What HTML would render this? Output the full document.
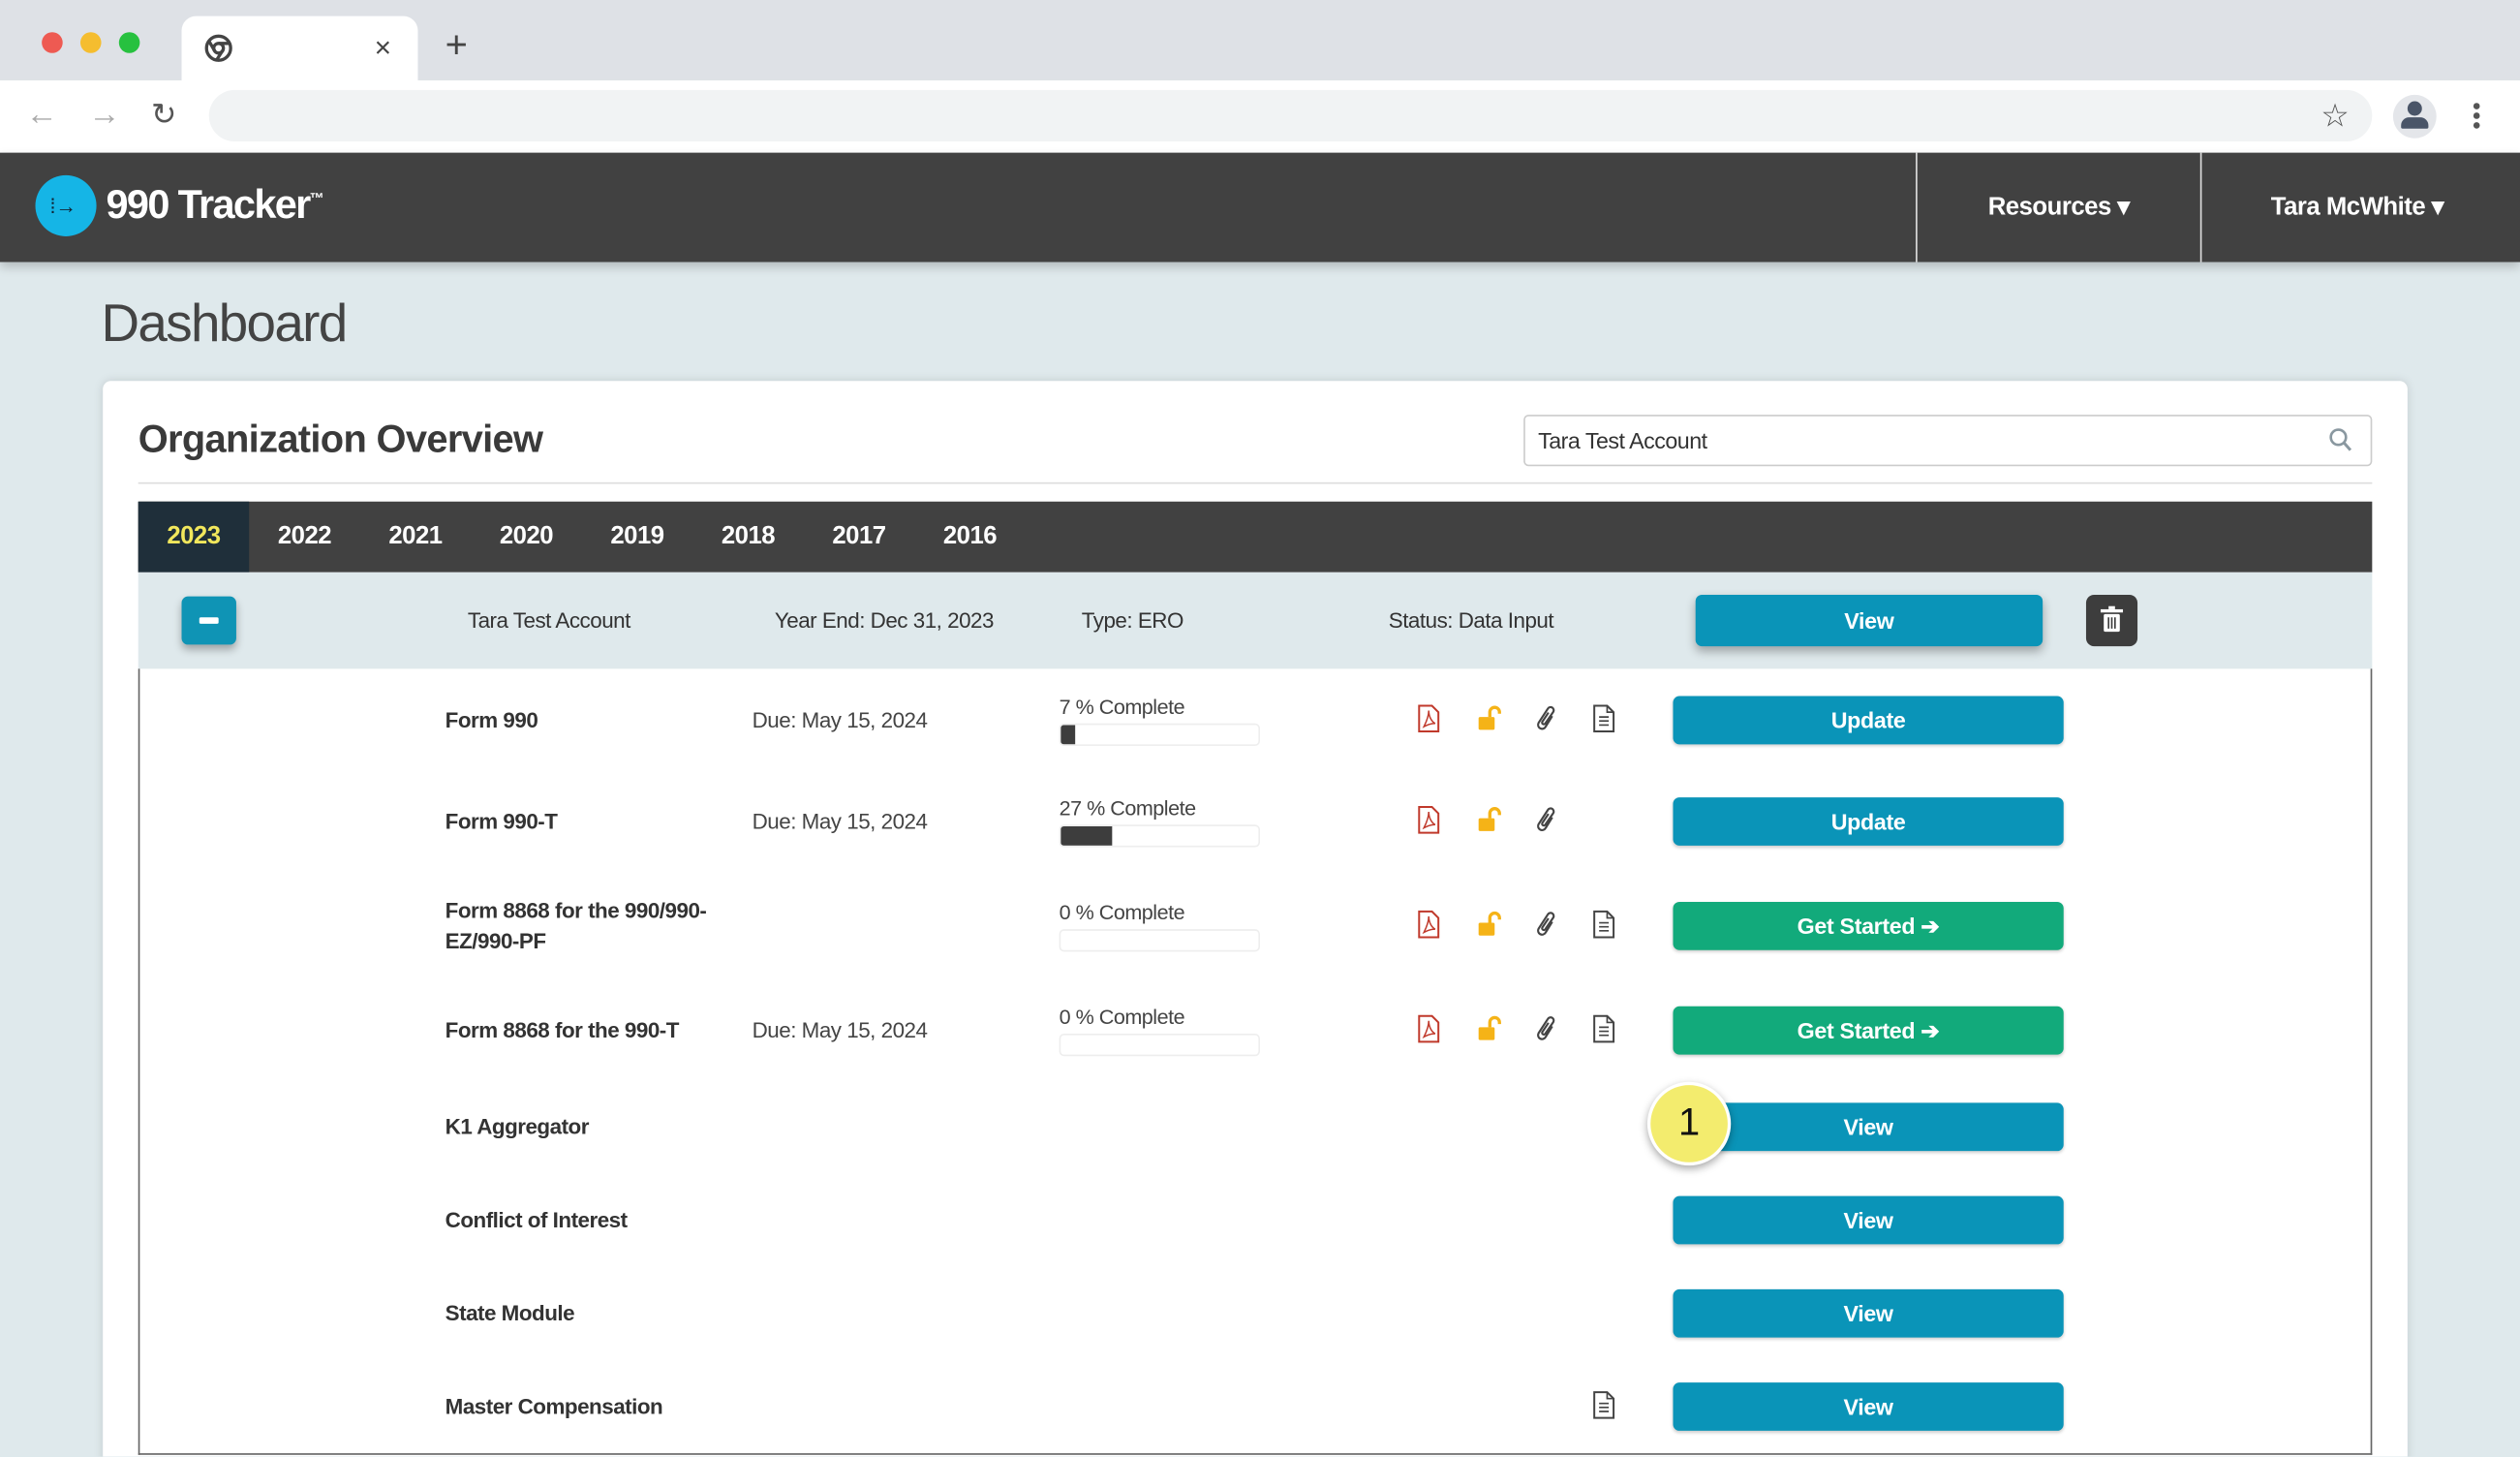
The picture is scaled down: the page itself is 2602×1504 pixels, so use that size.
<!DOCTYPE html>
<html><head><meta charset="utf-8">
<style>
*{margin:0;padding:0;box-sizing:border-box}
html,body{width:2602px;height:1504px;overflow:hidden;background:#dfe9ec}
#w{position:absolute;left:0;top:0;width:1568px;height:906px;transform:scale(1.65944);transform-origin:0 0;font-family:"Liberation Sans",sans-serif;color:#333;background:#dfe9ec;overflow:hidden}
.a{position:absolute}
.t{position:absolute;white-space:nowrap;transform:translateY(-50%)}
.btn{position:absolute;left:1041px;width:243px;height:30px;border-radius:4px;background:#0a94b8;color:#fff;font-weight:bold;font-size:14px;letter-spacing:-.2px;text-align:center;line-height:30px;box-shadow:0 1px 2px rgba(0,0,0,.2)}
.g{background:#12aa7b}
.nm{position:absolute;left:277px;font-weight:bold;font-size:13.5px;letter-spacing:-.3px;color:#333;transform:translateY(-50%);line-height:19px}
.due{position:absolute;left:468px;font-size:13.5px;letter-spacing:-.3px;color:#444;transform:translateY(-50%)}
.pl{position:absolute;left:659px;font-size:13px;letter-spacing:-.3px;color:#444}
.pb{position:absolute;left:659px;width:125px;height:14px;border:1px solid #eee;border-radius:3px;background:#fff;overflow:hidden}
.pb i{display:block;height:100%;background:#3d3d3d}
.yr{position:absolute;top:312px;height:44px;line-height:44px;color:#fff;font-weight:bold;font-size:15.5px;letter-spacing:-.3px;text-align:center;width:69px}
</style></head><body><div id="w">
<div class="a" style="left:0;top:0;width:1568px;height:50px;background:#dee1e6"></div>
<div class="a" style="left:26px;top:20px;width:13px;height:13px;border-radius:50%;background:#ee5a52"></div>
<div class="a" style="left:50px;top:20px;width:13px;height:13px;border-radius:50%;background:#f5bd2f"></div>
<div class="a" style="left:74px;top:20px;width:13px;height:13px;border-radius:50%;background:#27c13f"></div>
<div class="a" style="left:113px;top:10px;width:147px;height:41px;background:#fff;border-radius:9px 9px 0 0"></div>
<svg class="a" style="left:127px;top:21px" width="18" height="18" viewBox="0 0 18 18"><circle cx="9" cy="9" r="7.5" fill="none" stroke="#444" stroke-width="2"/><circle cx="9" cy="9" r="3" fill="none" stroke="#444" stroke-width="2"/><path d="M9 6H16M6.5 10.5L3 4.5M11.5 10.5L8 16" stroke="#444" stroke-width="2"/></svg>
<div class="t" style="left:233px;top:30px;font-size:18px;color:#444">×</div>
<div class="t" style="left:277px;top:29px;font-size:24px;color:#444">+</div>
<div class="a" style="left:0;top:50px;width:1568px;height:45px;background:#fff"></div>
<div class="t" style="left:16px;top:72px;font-size:20px;color:#aaa">←</div>
<div class="t" style="left:55px;top:72px;font-size:20px;color:#aaa">→</div>
<div class="t" style="left:94px;top:72px;font-size:19px;color:#555">↻</div>
<div class="a" style="left:130px;top:56px;width:1346px;height:32px;border-radius:16px;background:#f1f3f4"></div>
<div class="t" style="left:1444px;top:72px;font-size:20px;color:#555">☆</div>
<div class="a" style="left:1489px;top:59px;width:27px;height:27px;border-radius:50%;background:#e4e6ea"></div>
<div class="a" style="left:1498px;top:63px;width:9px;height:9px;border-radius:50%;background:#4a5568"></div>
<div class="a" style="left:1494px;top:73px;width:17px;height:7px;border-radius:5px 5px 1px 1px;background:#4a5568"></div>
<div class="a" style="left:1539px;top:64px;width:4px;height:4px;border-radius:50%;background:#555;box-shadow:0 6px 0 #555,0 12px 0 #555"></div>
<div class="a" style="left:0;top:95px;width:1568px;height:68px;background:#414141;box-shadow:0 3px 6px rgba(0,0,0,.2)"></div>
<div class="a" style="left:22px;top:109px;width:38px;height:38px;border-radius:50%;background:#15b5e6"></div>
<div class="t" style="left:31px;top:128px;font-size:13px;color:#123">⁞→</div>
<div class="t" style="left:66px;top:128px;font-size:25px;font-weight:bold;color:#fff;letter-spacing:-1px">990 Tracker<sup style="font-size:9px">™</sup></div>
<div class="a" style="left:1192px;top:95px;width:1px;height:68px;background:#ddd"></div>
<div class="a" style="left:1369px;top:95px;width:1px;height:68px;background:#ddd"></div>
<div class="t" style="left:1237px;top:129px;font-size:15.5px;letter-spacing:-.3px;font-weight:bold;color:#fff">Resources ▾</div>
<div class="t" style="left:1413px;top:129px;font-size:15.5px;letter-spacing:-.3px;font-weight:bold;color:#fff">Tara McWhite ▾</div>
<div class="t" style="left:63px;top:201px;font-size:33px;color:#444;font-weight:300;letter-spacing:-1px">Dashboard</div>
<div class="a" style="left:64px;top:237px;width:1434px;height:700px;background:#fff;border-radius:5px;box-shadow:0 0 6px rgba(0,0,0,.12)"></div>
<div class="t" style="left:86px;top:274px;font-size:24px;font-weight:bold;color:#3a3a3a;letter-spacing:-.4px">Organization Overview</div>
<div class="a" style="left:948px;top:258px;width:528px;height:32px;border:1px solid #ccc;border-radius:3px"></div>
<div class="t" style="left:957px;top:274px;font-size:14px;letter-spacing:-.3px;color:#333">Tara Test Account</div>
<svg class="a" style="left:1449px;top:266px" width="15" height="16"><circle cx="6" cy="6" r="4.7" fill="none" stroke="#8a98a0" stroke-width="1.6"/><path d="M9.5 9.5L13.5 14" stroke="#8a98a0" stroke-width="1.8"/></svg>
<div class="a" style="left:86px;top:300px;width:1390px;height:1px;background:#ddd"></div>
<div class="a" style="left:86px;top:312px;width:1390px;height:44px;background:#414141"></div>
<div class="a" style="left:86px;top:312px;width:69px;height:44px;background:#1f2f3a"></div>
<div class="yr" style="left:86px;color:#f1e75c">2023</div>
<div class="yr" style="left:155px">2022</div>
<div class="yr" style="left:224px">2021</div>
<div class="yr" style="left:293px">2020</div>
<div class="yr" style="left:362px">2019</div>
<div class="yr" style="left:431px">2018</div>
<div class="yr" style="left:500px">2017</div>
<div class="yr" style="left:569px">2016</div>
<div class="a" style="left:86px;top:356px;width:1390px;height:60px;background:#dfe9ec"></div>
<div class="a" style="left:86px;top:416px;width:1390px;height:489px;border:1px solid #666;border-top:none"></div>
<div class="a" style="left:113px;top:371px;width:34px;height:30px;border-radius:4px;background:#0f94b5;box-shadow:0 3px 5px rgba(0,0,0,.3)"></div>
<div class="a" style="left:124px;top:384px;width:12px;height:4px;border-radius:1px;background:#fff"></div>
<div class="t" style="left:291px;top:386px;font-size:13.5px;letter-spacing:-.3px;color:#333">Tara Test Account</div>
<div class="t" style="left:482px;top:386px;font-size:13.5px;letter-spacing:-.3px;color:#333">Year End: Dec 31, 2023</div>
<div class="t" style="left:673px;top:386px;font-size:13.5px;letter-spacing:-.3px;color:#333">Type: ERO</div>
<div class="t" style="left:864px;top:386px;font-size:13.5px;letter-spacing:-.3px;color:#333">Status: Data Input</div>
<div class="btn" style="left:1055px;top:370px;width:216px;height:32px;line-height:32px;box-shadow:0 3px 6px rgba(0,0,0,.3)">View</div>
<div class="a" style="left:1298px;top:370px;width:32px;height:32px;border-radius:5px;background:#3d3d3d"></div>
<svg class="a" style="left:1307px;top:377px" width="14" height="17"><rect x="0" y="2" width="14" height="2" fill="#fff"/><rect x="5" y="0" width="4" height="2" fill="#fff"/><rect x="2" y="5" width="10" height="11" rx="1" fill="#fff"/><path d="M5 7V14M7 7V14M9 7V14" stroke="#3d3d3d" stroke-width="1"/></svg>

<div class="nm" style="top:448px">Form 990</div>
<div class="due" style="top:448px">Due: May 15, 2024</div>
<div class="pl" style="top:432px">7 % Complete</div>
<div class="pb" style="top:450px"><i style="width:7%"></i></div>

<div class="nm" style="top:511px">Form 990-T</div>
<div class="due" style="top:511px">Due: May 15, 2024</div>
<div class="pl" style="top:495px">27 % Complete</div>
<div class="pb" style="top:513px"><i style="width:26%"></i></div>

<div class="nm" style="top:576px">Form 8868 for the 990/990-<br>EZ/990-PF</div>
<div class="pl" style="top:560px">0 % Complete</div>
<div class="pb" style="top:578px"></div>

<div class="nm" style="top:641px">Form 8868 for the 990-T</div>
<div class="due" style="top:641px">Due: May 15, 2024</div>
<div class="pl" style="top:625px">0 % Complete</div>
<div class="pb" style="top:643px"></div>

<div class="nm" style="top:701px">K1 Aggregator</div>
<div class="nm" style="top:759px">Conflict of Interest</div>
<div class="nm" style="top:817px">State Module</div>
<div class="nm" style="top:875px">Master Compensation</div>

<svg width="0" height="0" style="position:absolute"><defs>
<g id="pdf"><path d="M1 1H9L13 5V17H1Z" fill="none" stroke="#c0392b" stroke-width="1.2"/><path d="M4 14C6 10 7 7 7 4C7 8 9 11 11 12C8 12 6 13 4 14Z" fill="none" stroke="#c0392b" stroke-width=".9"/></g>
<g id="lock"><rect x="0" y="8" width="10" height="8" rx="1" fill="#f5b317"/><path d="M7 8V5A3 3 0 0 1 13 5V6" fill="none" stroke="#f5b317" stroke-width="2"/></g>
<g id="clip"><path d="M11 8L6 14A2.5 2.5 0 0 1 2 11L9 3A1.8 1.8 0 0 1 12 5.5L6 12A1 1 0 0 1 4.5 10.5L9 5.5" fill="none" stroke="#444" stroke-width="1.3" transform="rotate(-8 7 9)"/></g>
<g id="doc"><path d="M1 1H9L13 5V17H1Z" fill="none" stroke="#444" stroke-width="1.2"/><path d="M4 8H10M4 10.5H10M4 13H10M9 1V5H13" fill="none" stroke="#444" stroke-width="1"/></g>
</defs></svg>
<svg class="a" style="left:882px;top:438px" width="130" height="20"><use href="#pdf"/><use href="#lock" x="38" y="0"/><use href="#clip" x="73"/><use href="#doc" x="109"/></svg>
<svg class="a" style="left:882px;top:501px" width="130" height="20"><use href="#pdf"/><use href="#lock" x="38" y="0"/><use href="#clip" x="73"/></svg>
<svg class="a" style="left:882px;top:566px" width="130" height="20"><use href="#pdf"/><use href="#lock" x="38" y="0"/><use href="#clip" x="73"/><use href="#doc" x="109"/></svg>
<svg class="a" style="left:882px;top:631px" width="130" height="20"><use href="#pdf"/><use href="#lock" x="38" y="0"/><use href="#clip" x="73"/><use href="#doc" x="109"/></svg>
<svg class="a" style="left:991px;top:865px" width="16" height="20"><use href="#doc"/></svg>

<div class="btn" style="top:433px">Update</div>
<div class="btn" style="top:496px">Update</div>
<div class="btn g" style="top:561px">Get Started ➔</div>
<div class="btn g" style="top:626px">Get Started ➔</div>
<div class="btn" style="top:686px">View</div>
<div class="btn" style="top:744px">View</div>
<div class="btn" style="top:802px">View</div>
<div class="btn" style="top:860px">View</div>
<div class="a" style="left:1025px;top:673px;width:52px;height:52px;border-radius:50%;background:#f3ec6e;border:2px solid #fff;box-shadow:0 2px 5px rgba(0,0,0,.35);text-align:center;line-height:48px;font-size:24px;color:#111">1</div>
</div></body></html>
